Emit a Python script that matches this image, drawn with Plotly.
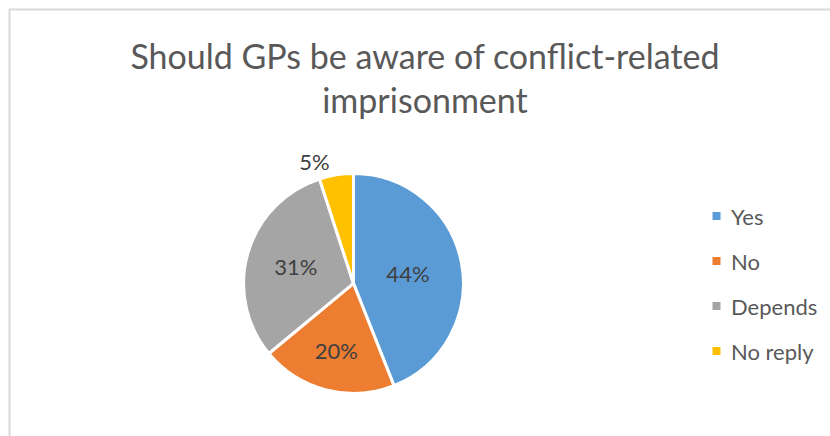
import plotly.graph_objects as go

# Survey answers and their shares (%)
categories = ["Yes", "No", "Depends", "No reply"]
shares = [44, 20, 31, 5]
colors = ["#5B9BD5", "#ED7D31", "#A5A5A5", "#FFC000"]
text_positions = ["inside", "inside", "inside", "outside"]

W, H = 830, 436
FONT = "Lato"

fig = go.Figure()
fig.add_trace(go.Pie(
    labels=categories,
    values=shares,
    sort=False,
    direction="clockwise",
    rotation=0,
    marker=dict(colors=colors, line=dict(color="white", width=3)),
    textinfo="percent",
    texttemplate="%{percent:.0%}",
    textposition=text_positions,
    insidetextorientation="horizontal",
    textfont=dict(family=FONT, size=22, color="#404040"),
    showlegend=False,
    domain=dict(x=[0.2935, 0.5583], y=[0.0976, 0.6021]),
    hoverinfo="label+percent",
))

# Legend on the right: square swatch + label for every category
leg_x = 716.5 / W
leg_y0 = 216
leg_dy = 45
for i, (name, col) in enumerate(zip(categories, colors)):
    yc = 1 - (leg_y0 + i * leg_dy) / H
    fig.add_shape(type="rect", xref="paper", yref="paper",
                  x0=leg_x - 4 / W, x1=leg_x + 4 / W,
                  y0=yc - 4 / H, y1=yc + 4 / H,
                  fillcolor=col, line=dict(width=0))
    fig.add_annotation(x=731 / W, y=yc, xref="paper", yref="paper",
                       text=name, showarrow=False, xanchor="left", yanchor="middle",
                       xshift=-2,
                       font=dict(family=FONT, size=22, color="#595959"))

# Chart area frame
fig.add_shape(type="rect", xref="paper", yref="paper",
              x0=9.5 / W, x1=1.1, y0=-0.1, y1=1 - 9.5 / H,
              line=dict(color="#D9D9D9", width=2), fillcolor="rgba(0,0,0,0)")

fig.update_layout(
    width=W, height=H,
    margin=dict(l=0, r=0, t=0, b=0),
    paper_bgcolor="white",
    plot_bgcolor="white",
    title=dict(
        text="Should GPs be aware of conflict-related<br>imprisonment",
        x=0.512, xanchor="center",
        y=1 - 69 / H, yanchor="top",
        font=dict(family=FONT, size=34, color="#595959"),
    ),
)

fig.write_html("out.html")
